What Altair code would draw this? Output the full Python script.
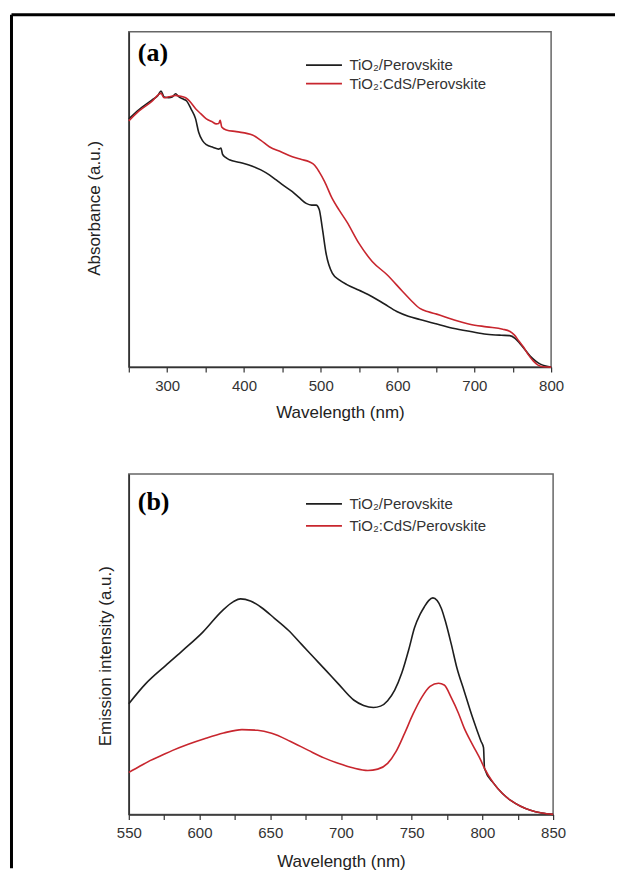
import altair as alt
import pandas as pd

names = ["TiO₂/Perovskite", "TiO₂:CdS/Perovskite"]
colors = ["#1e1e1e", "#c8262e"]

# Panel (a): absorbance (arbitrary units, 0-100 = plot height)
a_black_wl = [250, 263, 280, 288, 292, 296, 302, 307, 311, 315, 322, 325, 331, 337, 341, 346, 351, 360, 367, 370, 372, 376, 381, 395, 411, 422, 433, 442, 450, 463, 472, 481, 488, 494, 498, 502, 507, 515, 524, 534, 550, 567, 583, 599, 614, 629, 650, 672, 695, 716, 735, 746, 753, 759, 766, 773, 780, 786, 793, 800]
a_black_v = [74.0, 76.7, 79.6, 81.0, 82.3, 80.5, 80.3, 80.6, 81.5, 80.6, 79.8, 79.4, 77.0, 74.0, 70.0, 67.5, 66.3, 65.5, 65.0, 65.3, 63.5, 62.5, 61.8, 61.0, 59.9, 58.8, 57.3, 55.8, 54.4, 52.3, 50.5, 48.8, 48.3, 48.3, 47.0, 41.5, 33.8, 28.0, 26.0, 24.6, 22.9, 21.0, 18.8, 16.6, 15.2, 14.2, 12.9, 11.6, 10.6, 9.8, 9.5, 9.4, 8.6, 7.1, 5.2, 3.2, 1.8, 0.9, 0.3, 0.0]
a_red_wl = [250, 263, 280, 292, 296, 302, 307, 311, 316, 324, 331, 337, 344, 351, 358, 364, 367, 369, 371, 377, 390, 411, 422, 433, 448, 463, 475, 485, 492, 498, 505, 515, 524, 534, 550, 567, 586, 606, 618, 629, 640, 651, 672, 694, 716, 737, 746, 752, 758, 764, 770, 777, 783, 790, 800]
a_red_v = [73.4, 76.3, 79.2, 81.6, 80.3, 80.6, 80.8, 81.0, 80.8, 80.3, 78.8, 77.0, 75.5, 74.0, 73.2, 72.5, 72.6, 73.6, 71.6, 70.7, 70.2, 69.2, 67.6, 65.7, 64.2, 62.7, 61.9, 61.2, 60.2, 58.2, 55.3, 50.2, 46.8, 43.3, 36.8, 31.5, 27.6, 22.7, 19.8, 17.5, 16.5, 15.8, 14.2, 12.8, 12.0, 11.3, 10.7, 9.6, 7.8, 6.0, 3.8, 1.8, 0.6, 0.1, 0.0]

# Panel (b): emission intensity (arbitrary units, 0-100 = plot height)
b_black_wl = [550, 562, 576, 588, 602, 616, 624, 629, 636, 644, 653, 663, 672, 681, 690, 698, 709, 716, 723, 728, 733, 738, 743, 748, 752, 756, 759, 762, 765, 768, 771, 774, 778, 782, 787, 793, 799, 800.8, 801.5, 808, 814, 820, 827, 834, 842, 850]
b_black_v = [32.5, 38.4, 43.7, 48.1, 53.4, 59.8, 62.5, 63.3, 62.7, 60.7, 57.6, 54.0, 50.0, 46.0, 42.0, 38.4, 33.6, 32.0, 31.4, 31.8, 33.4, 36.5, 41.5, 48.5, 54.8, 58.8, 61.0, 62.8, 63.6, 62.8, 60.5, 56.5, 50.0, 43.0, 36.4, 28.5, 21.5, 19.6, 13.5, 9.1, 6.2, 4.1, 2.4, 1.2, 0.4, 0.0]
b_red_wl = [550, 558, 565, 573, 581, 592, 604, 617, 630, 641, 651, 664, 677, 688, 698, 709, 719, 726, 733, 739, 745, 751, 757, 763, 769, 773, 778, 783, 787, 793, 799, 801.5, 808, 814, 820, 827, 834, 842, 850]
b_red_v = [12.3, 14.2, 15.8, 17.3, 18.8, 20.6, 22.3, 23.9, 24.9, 24.7, 23.8, 21.5, 18.8, 16.6, 15.0, 13.6, 12.9, 13.3, 15.0, 18.5, 23.8, 29.5, 34.3, 37.6, 38.5, 38.0, 34.3, 29.8, 25.5, 20.5, 15.8, 13.5, 9.1, 6.2, 4.1, 2.4, 1.2, 0.4, 0.0]

a_ticks = list(range(250, 801, 50))
b_ticks = list(range(550, 851, 25))

FONT = "Liberation Sans"


def make_df(wl1, v1, wl2, v2):
    return pd.DataFrame({
        "wl": wl1 + wl2,
        "v": v1 + v2,
        "series": [names[0]] * len(wl1) + [names[1]] * len(wl2),
    })


def panel(df, dom, ticks, label_mod, ytitle, ytitle_pad, ytitle_y, w, h,
          leg_y, row_pad, label, label_y, x_title_pad):
    lines = alt.Chart(df).mark_line(strokeWidth=1.6, interpolate="monotone").encode(
        x=alt.X("wl:Q", scale=alt.Scale(domain=dom, nice=False, zero=False),
                axis=alt.Axis(title="Wavelength (nm)", values=ticks,
                              labelExpr=f"datum.value % {label_mod} == 0 ? datum.label : ''",
                              labelPadding=6, titlePadding=x_title_pad, labelFlush=False)),
        y=alt.Y("v:Q", scale=alt.Scale(domain=[0, 100], nice=False),
                axis=alt.Axis(title=ytitle, labels=False, ticks=False,
                              titlePadding=ytitle_pad, titleY=ytitle_y)),
        color=alt.Color("series:N",
                        scale=alt.Scale(domain=names, range=colors),
                        legend=alt.Legend(title=None, orient="none", legendX=188,
                                          legendY=leg_y, symbolType="M-3,0H3",
                                          symbolSize=144, symbolStrokeWidth=1.6,
                                          labelFontSize=15, labelFont=FONT,
                                          labelColor="#333", rowPadding=row_pad,
                                          labelOffset=18)),
    )
    txt = alt.Chart(pd.DataFrame({"t": [label]})).mark_text(
        font="Liberation Serif", fontWeight="bold", fontSize=26,
        align="left", baseline="middle", color="black"
    ).encode(x=alt.value(9), y=alt.value(label_y), text="t:N")
    return alt.layer(lines, txt).properties(width=w, height=h)


pa = panel(make_df(a_black_wl, a_black_v, a_red_wl, a_red_v), [250, 800], a_ticks, 100,
           "Absorbance (a.u.)", 25, 176.5, 423, 336, 26, 2.5, "(a)", 21.5, 11)

one = pd.DataFrame({"k": [0]})
top_line = alt.Chart(one).mark_rule(color="black", strokeWidth=3).encode(
    x=alt.value(-117.5), x2=alt.value(487), y=alt.value(-17))
left_line = alt.Chart(one).mark_rule(color="black", strokeWidth=3).encode(
    x=alt.value(-117.5), y=alt.value(-17), y2=alt.value(838))
pa = alt.layer(pa, top_line, left_line)

pb = panel(make_df(b_black_wl, b_black_v, b_red_wl, b_red_v), [550, 850], b_ticks, 50,
           "Emission intensity (a.u.)", 14, 182, 425, 341, 22.5, 6, "(b)", 28, 13)

chart = alt.vconcat(pa, pb, spacing=107, bounds="flush").resolve_scale(
    x="independent", y="independent", color="independent"
).resolve_legend(color="independent").properties(
    padding={"left": 1, "top": 3, "right": 0, "bottom": 0},
    background="white",
).configure_view(stroke="#666", strokeWidth=1.5).configure_axis(
    domainColor="#333", domainWidth=1.5, tickColor="#333", tickWidth=1.2,
    tickSize=5, labelFont=FONT, labelFontSize=15, labelColor="#333",
    titleFont=FONT, titleFontSize=17, titleFontWeight="normal", titleColor="#222",
    grid=False,
)

chart.save("out.html", embed_options={"renderer": "svg", "actions": False})
